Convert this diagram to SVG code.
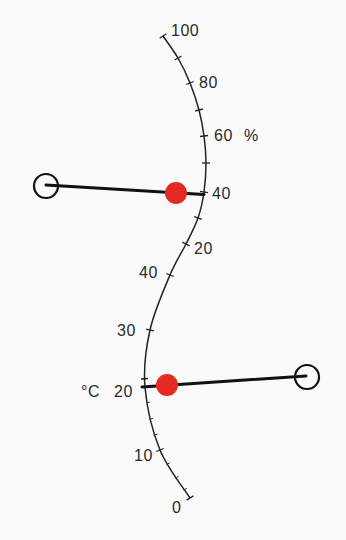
<svg xmlns="http://www.w3.org/2000/svg" width="346" height="540" viewBox="0 0 346 540">
<style>
.lbl{font-family:"Liberation Sans",Arial,sans-serif;font-size:16px;fill:#2a2a2a;letter-spacing:0.5px}
.tick{stroke:#222;stroke-width:1.3;fill:none}
.minor{stroke:#333;stroke-width:1;fill:none}
.scale{stroke:#222;stroke-width:1.5;fill:none}
.needle{stroke:#111;stroke-width:3;stroke-linecap:round;fill:none}
.ring{stroke:#111;stroke-width:2.2;fill:none}
.dot{fill:#e52a22}
</style>
<rect width="346" height="540" fill="#fafafa"/>
<g id="scale">
<path class="scale" d="M163,36 C165.5,39.7 173.5,50.2 178,58 C182.5,65.8 186.5,74.3 190,83 C193.5,91.7 196.7,101.2 199,110 C201.3,118.8 202.8,127.2 204,136 C205.2,144.8 206,153.7 206,163 C206,172.3 205.3,182.8 204,192 C202.7,201.2 201,209.3 198,218 C195,226.7 190.7,234.5 186,244 C181.3,253.5 176,260.7 170,275 C164,289.3 154.2,311.3 150,330 C145.8,348.7 143.3,367 145,387 C146.7,407 152.5,431.5 160,450 C167.5,468.5 185,490 190,498"/>
<g id="ticks">
<line class="tick" x1="159.7" y1="38.2" x2="166.3" y2="33.8"/>
<line class="tick" x1="174.5" y1="60" x2="181.5" y2="56"/>
<line class="tick" x1="186.3" y1="84.5" x2="193.7" y2="81.5"/>
<line class="tick" x1="195.1" y1="111" x2="202.9" y2="109"/>
<line class="tick" x1="200" y1="136.5" x2="208" y2="135.5"/>
<line class="tick" x1="202" y1="163" x2="210" y2="163"/>
<line class="tick" x1="200" y1="191.4" x2="208" y2="192.6"/>
<line class="tick" x1="194.2" y1="216.7" x2="201.8" y2="219.3"/>
<line class="tick" x1="182.4" y1="242.2" x2="189.6" y2="245.8"/>
<line class="tick" x1="166.3" y1="273.5" x2="173.7" y2="276.5"/>
<line class="tick" x1="146.1" y1="329.1" x2="153.9" y2="330.9"/>
<line class="tick" x1="141" y1="379" x2="148" y2="378.5"/>
<line class="tick" x1="141" y1="387.3" x2="149" y2="386.7"/>
<line class="tick" x1="156.3" y1="451.5" x2="163.7" y2="448.5"/>
<line class="tick" x1="186.6" y1="500.1" x2="193.4" y2="495.9"/>
<line class="minor" x1="146" y1="402.9" x2="150" y2="402.1"/>
<line class="minor" x1="149.3" y1="419.4" x2="153.2" y2="418.2"/>
<line class="minor" x1="153.7" y1="435.5" x2="157.5" y2="434"/>
<line class="minor" x1="166.3" y1="464.7" x2="169.8" y2="462.8"/>
<line class="minor" x1="175.2" y1="478.4" x2="178.5" y2="476.3"/>
<line class="minor" x1="183.4" y1="490.2" x2="186.9" y2="488.2"/>
</g>
</g>
<g id="labels">
<text class="lbl" x="171" y="36">100</text>
<text class="lbl" x="199" y="88">80</text>
<text class="lbl" x="214" y="141">60</text>
<text class="lbl" x="244" y="141">%</text>
<text class="lbl" x="212" y="199">40</text>
<text class="lbl" x="194" y="254">20</text>
<text class="lbl" x="139" y="278">40</text>
<text class="lbl" x="117" y="336">30</text>
<text class="lbl" x="81" y="397">°C</text>
<text class="lbl" x="114" y="397">20</text>
<text class="lbl" x="134" y="461">10</text>
<text class="lbl" x="172" y="513">0</text>
</g>
<g id="connectors">
<line class="needle" x1="46" y1="185" x2="204" y2="194.5"/>
<line class="needle" x1="142" y1="387" x2="306" y2="376"/>
</g>
<g id="needle-top">
<circle class="ring" cx="46" cy="186" r="12"/>
<circle class="dot" cx="176" cy="193" r="11"/>
</g>
<g id="needle-bottom">
<circle class="ring" cx="307" cy="377" r="12"/>
<circle class="dot" cx="167" cy="385" r="11"/>
</g>
</svg>
